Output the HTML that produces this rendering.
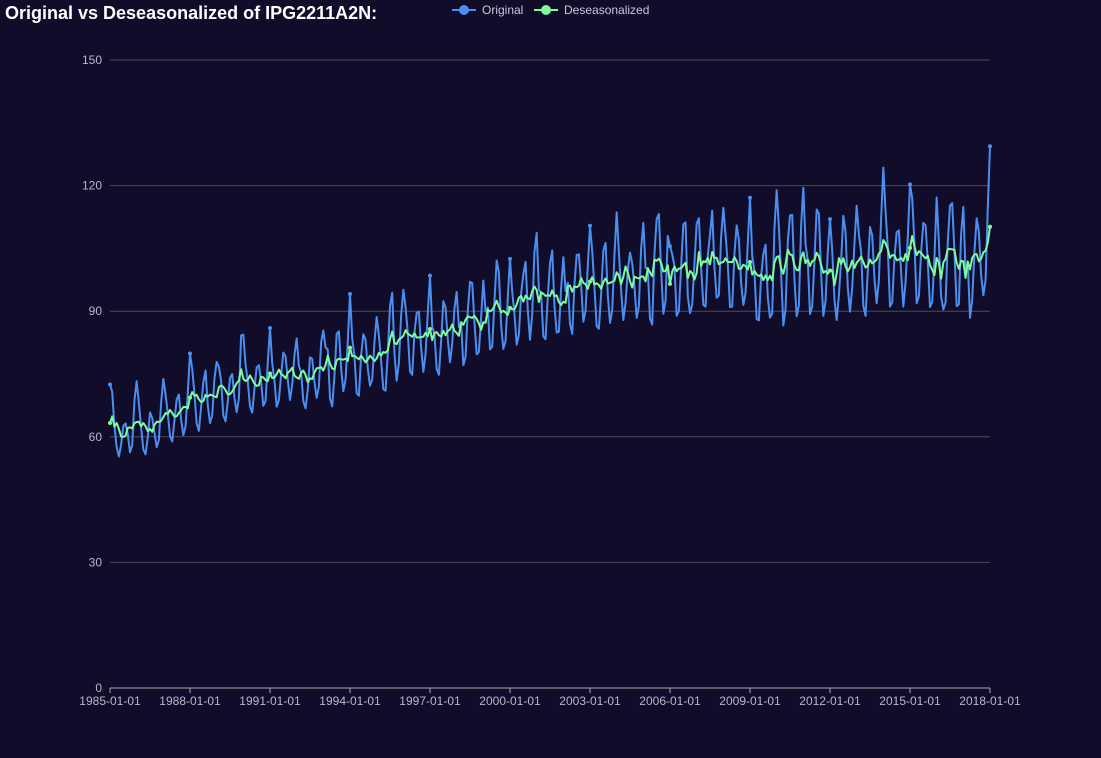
<!DOCTYPE html>
<html><head><meta charset="utf-8"><style>
body{margin:0;background:#110c29;font-family:"Liberation Sans",sans-serif;}
svg{display:block}
</style></head><body>
<svg id="chart" width="1101" height="758">
<rect width="1101" height="758" fill="#110c29"/>
<text x="5" y="19" fill="#ffffff" font-size="18" font-weight="bold">Original vs Deseasonalized of IPG2211A2N:</text>
<g>
<g><line x1="452" y1="10" x2="476" y2="10" stroke="#4a8ff0" stroke-width="2"/><circle cx="464" cy="10" r="5" fill="#4a8ff0"/><text x="482" y="14" fill="#c8c8d8" font-size="12">Original</text></g>
<g><line x1="534" y1="10" x2="558" y2="10" stroke="#7dfc9f" stroke-width="2"/><circle cx="546" cy="10" r="5" fill="#7dfc9f"/><text x="564" y="14" fill="#c8c8d8" font-size="12">Deseasonalized</text></g>
</g>
<g id="grid"></g><g id="axes"></g><g id="series"></g>
</svg>
<script>
const yTicks=[0,30,60,90,120,150];
const xTickLabels=["1985-01-01","1988-01-01","1991-01-01","1994-01-01","1997-01-01","2000-01-01","2003-01-01","2006-01-01","2009-01-01","2012-01-01","2015-01-01","2018-01-01"];
const original=[
72.5,70.7,62.5,57.5,55.3,58.1,62.6,63.2,60.6,56.3,58.0,68.7,
73.3,68.0,62.2,57.0,55.8,59.9,65.8,64.5,61.0,57.5,59.3,68.1,
73.8,70.1,65.6,60.2,58.9,63.9,68.9,70.1,64.1,60.4,62.5,70.6,
79.9,76.2,70.3,63.2,61.4,67.1,73.0,75.8,67.5,63.3,65.1,73.9,
77.9,76.7,73.4,65.1,63.7,68.5,74.0,75.0,69.3,65.9,69.1,84.2,
84.4,77.2,73.2,67.3,65.8,71.5,76.6,77.1,73.1,67.4,68.6,77.7,
86.0,77.6,73.4,67.2,68.8,74.8,80.1,79.2,73.6,68.8,72.5,79.5,
83.5,77.0,75.4,68.5,66.8,71.3,79.0,78.6,73.1,69.3,72.0,82.5,
85.4,81.4,80.8,69.2,67.3,74.5,84.6,85.2,76.4,70.9,73.7,82.8,
94.1,83.5,79.3,70.4,69.8,79.4,84.5,83.2,76.3,72.2,73.7,82.6,
88.6,84.2,78.2,71.4,71.0,79.9,91.3,94.4,80.0,73.4,77.6,88.9,
95.1,91.0,84.9,75.6,74.8,84.8,89.6,89.9,81.3,75.5,79.8,89.6,
98.5,86.3,84.6,76.2,74.8,82.8,92.4,90.8,83.3,77.8,82.3,90.6,
94.6,86.2,87.2,77.1,79.1,90.0,97.0,96.7,87.4,79.7,80.3,88.5,
97.3,89.9,90.9,80.9,81.5,92.4,102.1,99.2,86.7,81.0,82.9,93.3,
102.5,94.6,89.4,82.0,84.4,94.2,98.8,101.8,90.3,83.2,89.3,104.1,
108.7,95.1,94.3,84.0,83.3,93.5,101.4,104.5,91.4,84.9,85.1,95.5,
102.9,94.8,96.8,87.0,84.6,96.3,103.4,103.6,96.4,87.5,90.1,100.7,
110.4,104.3,95.6,86.4,85.8,94.0,104.5,106.3,93.9,87.2,90.3,103.3,
113.6,104.1,95.0,87.9,92.0,99.7,104.0,101.4,95.9,88.4,91.2,104.9,
111.1,100.3,100.2,88.2,86.8,103.6,112.1,113.2,99.9,89.4,92.5,108.0,
105.5,103.6,100.8,88.9,90.1,100.7,110.8,111.2,93.6,89.5,91.6,101.4,
110.9,112.2,100.3,91.5,91.1,103.2,108.3,114.0,100.5,93.2,93.8,107.7,
114.7,108.2,101.3,91.0,91.1,103.7,110.5,107.1,96.8,91.5,94.4,106.3,
117.1,103.2,99.5,88.1,87.8,98.4,103.6,105.9,93.4,88.5,89.5,109.8,
118.9,110.1,98.9,86.6,90.5,106.5,112.9,113.0,97.6,88.8,91.4,110.4,
119.5,106.0,102.1,89.3,91.2,102.1,114.3,113.3,98.9,88.9,92.4,104.2,
112.0,104.4,92.8,87.9,93.8,102.0,112.8,108.9,95.7,89.9,95.6,106.1,
115.2,108.3,104.2,91.2,88.9,99.6,110.1,108.1,97.9,91.9,97.4,112.0,
124.3,113.9,105.3,91.1,92.1,102.8,108.9,109.3,99.3,91.1,96.9,107.6,
120.3,117.0,106.1,91.9,93.6,104.1,111.1,110.5,101.8,91.0,92.2,102.7,
117.2,106.4,93.5,90.4,92.1,106.6,115.2,115.8,104.1,91.2,91.7,108.4,
114.9,99.5,101.7,88.4,92.8,104.2,112.2,108.9,98.6,93.8,97.3,114.7,
129.4];
// multiplicative seasonal index per month, derived from data
const nYears=Math.floor(original.length/12);
const seasonal=new Array(12).fill(0);
for(let y=0;y<nYears;y++){let s=0;for(let m=0;m<12;m++)s+=original[y*12+m];const mean=s/12;
 for(let m=0;m<12;m++)seasonal[m]+=(original[y*12+m]/mean)/nYears;}
const rawDes=original.map((v,i)=>v/seasonal[i%12]);
const deseasonalized=rawDes.map((v,i)=>{
 let s=0,c=0;for(let k=-6;k<=6;k++){const j=i+k;if(j>=0&&j<rawDes.length){s+=rawDes[j];c++;}}
 return 0.55*v+0.45*(s/c);
});

const NS="http://www.w3.org/2000/svg";
const X0=110,X1=990,Y0=688,Y1=60,YMAX=150;
const xScale=i=>X0+(X1-X0)*i/(original.length-1);
const yScale=v=>Y0-(Y0-Y1)*v/YMAX;
function mk(tag,attrs,parent){const e=document.createElementNS(NS,tag);for(const k in attrs)e.setAttribute(k,attrs[k]);parent.appendChild(e);return e;}
const grid=document.getElementById('grid'),axes=document.getElementById('axes'),series=document.getElementById('series');
yTicks.forEach(t=>{
 const l=mk('line',{x1:X0,x2:X1,y1:yScale(t),y2:yScale(t),stroke:t===0?'#aaaaaa':'#4a4a5a','stroke-width':1},grid);
 
 
 const tx=mk('text',{x:102,y:yScale(t)+4,fill:'#b8b8c8','font-size':12,'text-anchor':'end'},axes);
 tx.textContent=t;
 
 
});
xTickLabels.forEach((lab,k)=>{
 const x=xScale(k*36);
 const tk=mk('line',{x1:x,x2:x,y1:Y0,y2:Y0+5,stroke:'#aaaaaa'},axes);
 
 
 const tx=mk('text',{x:x,y:Y0+17,fill:'#b8b8c8','font-size':12,'text-anchor':'middle'},axes);
 tx.textContent=lab;
 
 
});
function drawSeries(data,color,name){
 const d=data.map((v,i)=>(i?'L':'M')+xScale(i).toFixed(2)+','+yScale(v).toFixed(2)).join('');
 const p=mk('path',{d:d,fill:'none',stroke:color,'stroke-width':2,'stroke-linejoin':'round'},series);
 
 
 for(let i=0;i<data.length;i+=36){
  const c=mk('circle',{cx:xScale(i),cy:yScale(data[i]),r:2,fill:color},series);
  
  
 }
}
drawSeries(original,'#4a8ff0','original');
drawSeries(deseasonalized,'#7dfc9f','deseasonalized');
</script>
</body></html>
